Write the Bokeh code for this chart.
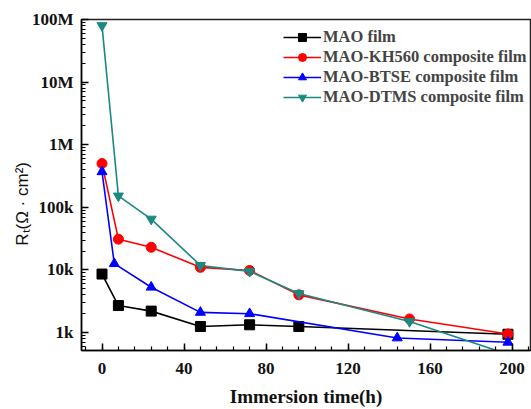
from bokeh.plotting import figure
from bokeh.models import Legend, LegendItem, Range1d, FixedTicker, CustomJSTickFormatter
from bokeh.embed import file_html
from bokeh.resources import INLINE

# Data (Rt in ohm*cm^2 vs immersion time in h)
t_mao = [0, 8, 24, 48, 72, 96, 198]
r_mao = [8600, 2700, 2200, 1250, 1330, 1250, 940]

t_kh = [0, 8, 24, 48, 72, 96, 150, 198]
r_kh = [500000, 31000, 23000, 11000, 9800, 4000, 1650, 950]

t_btse = [0, 6, 24, 48, 72, 144, 198]
r_btse = [370000, 12600, 5300, 2100, 2000, 820, 700]

t_dtms = [0, 8, 24, 48, 72, 96, 150, 198]
r_dtms = [80000000, 152000, 65000, 11800, 9500, 4200, 1500, 450]

names = ["MAO film", "MAO-KH560 composite film", "MAO-BTSE composite film", "MAO-DTMS composite film"]
colors = ["#000000", "#ff0000", "#0000ff", "#1a8a80"]

y_major = [1e3, 1e4, 1e5, 1e6, 1e7, 1e8]
y_minor = [m * d for d in [1e2, 1e3, 1e4, 1e5, 1e6, 1e7] for m in range(2, 10)]
x_major = [0, 40, 80, 120, 160, 200]
x_minor = list(range(-8, 209, 8))

p = figure(width=531, height=409, y_axis_type="log", output_backend="svg",
           toolbar_location=None, x_range=Range1d(-10, 209), y_range=Range1d(517, 1e8),
           min_border_left=81, min_border_right=1, min_border_top=19, min_border_bottom=58)
p.xgrid.visible = False
p.ygrid.visible = False
p.outline_line_color = "#222222"
p.outline_line_width = 1.5

serif = "Liberation Serif"
for ax in (p.xaxis[0], p.yaxis[0]):
    ax.axis_line_width = 1.5
    ax.major_tick_in = 7
    ax.major_tick_out = 0
    ax.minor_tick_in = 4
    ax.minor_tick_out = 0
    ax.major_tick_line_width = 1.5
    ax.minor_tick_line_width = 1.2
    ax.major_label_text_font = serif
    ax.major_label_text_font_style = "bold"
    ax.major_label_text_font_size = "17px"
    ax.major_label_text_color = "#111111"

p.xaxis[0].ticker = FixedTicker(ticks=x_major, minor_ticks=x_minor)
p.xaxis[0].major_label_standoff = 12
p.xaxis[0].axis_label = "Immersion time(h)"
p.xaxis[0].axis_label_text_font = serif
p.xaxis[0].axis_label_text_font_style = "bold"
p.xaxis[0].axis_label_text_font_size = "19px"
p.xaxis[0].axis_label_text_color = "#111111"
p.xaxis[0].axis_label_standoff = 9

p.yaxis[0].ticker = FixedTicker(ticks=y_major, minor_ticks=y_minor)
p.yaxis[0].formatter = CustomJSTickFormatter(code="""
const m = {3:'1k', 4:'10k', 5:'100k', 6:'1M', 7:'10M', 8:'100M'};
return m[Math.round(Math.log10(tick))];
""")
p.yaxis[0].major_label_standoff = 8
p.yaxis[0].axis_label = "R\u209c(\u03a9 \u00b7 cm\u00b2)" + "\u00a0" * 8
p.yaxis[0].axis_label_text_font = "Liberation Sans"
p.yaxis[0].axis_label_text_font_style = "normal"
p.yaxis[0].axis_label_text_font_size = "17px"
p.yaxis[0].axis_label_text_color = "#111111"
p.yaxis[0].axis_label_standoff = -3

series = [(t_mao, r_mao, "square"), (t_kh, r_kh, "circle"),
          (t_btse, r_btse, "triangle"), (t_dtms, r_dtms, "inverted_triangle")]
items = []
for (t, r, mk), c, n in zip(series, colors, names):
    ln = p.line(t, r, line_color=c, line_width=1.6)
    sc = p.scatter(t, r, marker=mk, size=10, fill_color=c, line_color=c)
    items.append(LegendItem(label=n, renderers=[ln, sc]))

legend = Legend(items=items, location=(202, 243), padding=0, margin=0, spacing=0,
                label_height=20, glyph_height=20, glyph_width=38, label_standoff=2,
                label_text_font=serif, label_text_font_style="bold",
                label_text_font_size="16.5px", border_line_alpha=0,
                background_fill_alpha=0)
p.add_layout(legend)

open("out.html", "w").write(file_html(p, INLINE))
